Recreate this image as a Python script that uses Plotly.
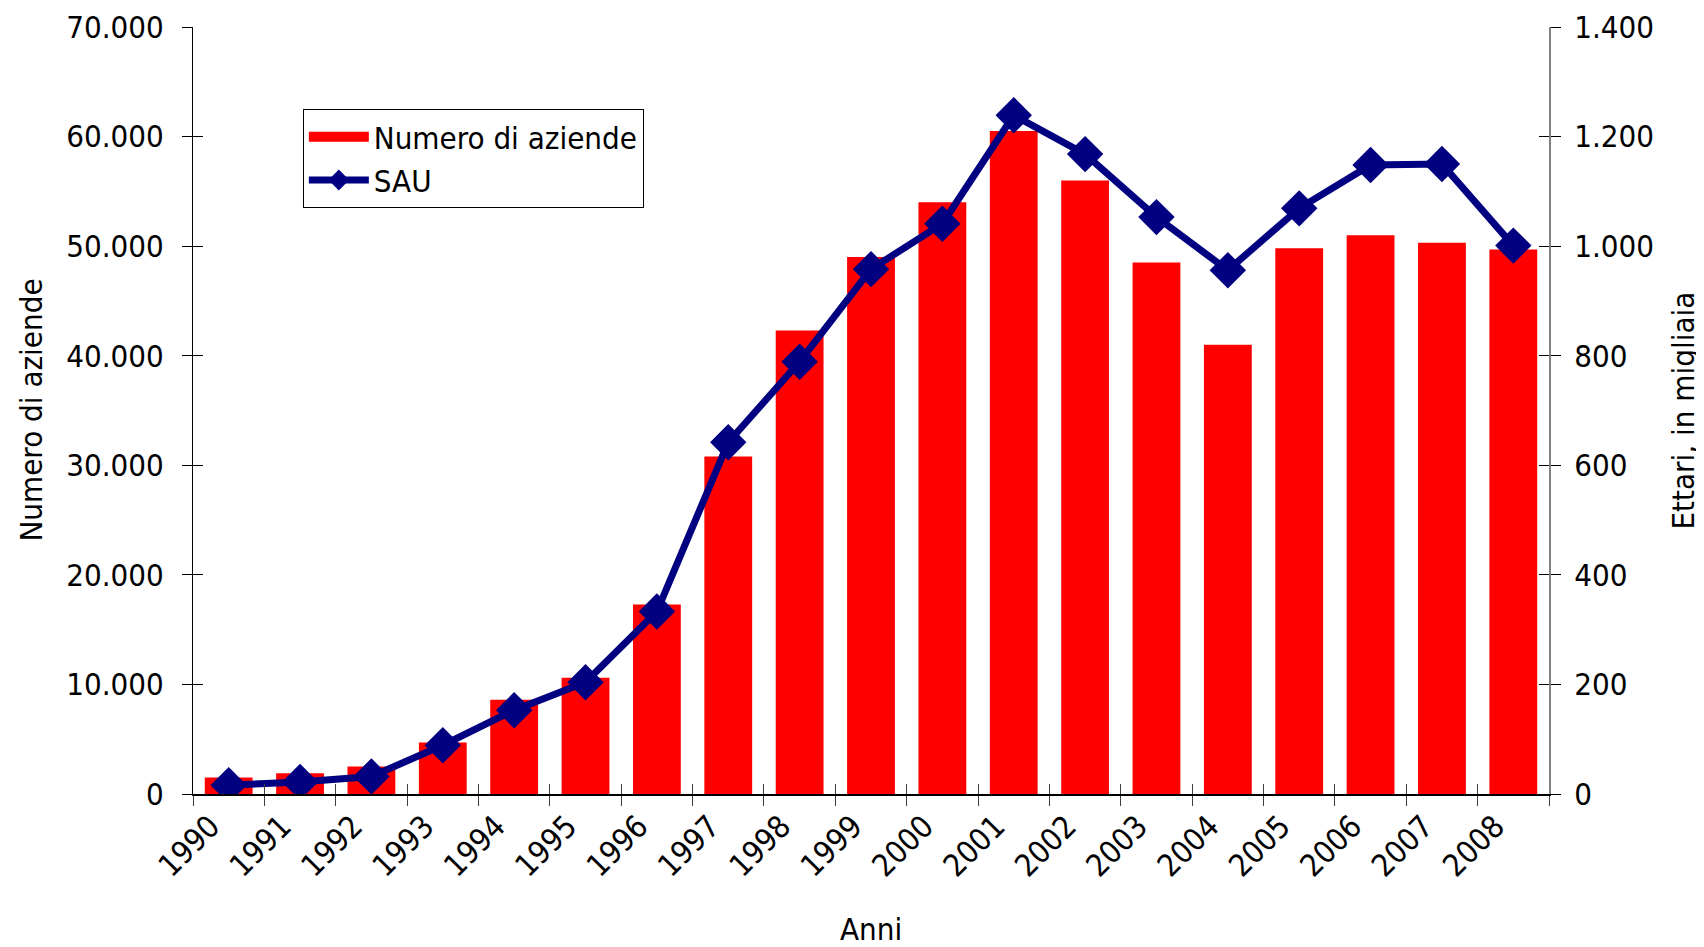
import plotly.graph_objects as go

years = [str(y) for y in range(1990, 2009)]
aziende = [1500, 1900, 2500, 4700, 8600, 10600, 17300, 30800, 42300, 49000,
           54000, 60500, 56000, 48500, 41000, 49800, 51000, 50300, 49700]
sau = [16, 22, 32, 89, 153, 204, 333, 642, 789, 958,
       1041, 1239, 1168, 1053, 956, 1069, 1148, 1150, 1001]

left_ticks = list(range(0, 70001, 10000))
right_ticks = list(range(0, 1401, 200))

FONT = "DejaVu Sans Condensed, Liberation Sans Narrow, DejaVu Sans, sans-serif"
FS = 31
NAVY = "#000080"
RED = "#FF0000"

fig = go.Figure()
# legend entry for the bars (wide rectangle look)
fig.add_trace(go.Scatter(
    x=[None], y=[None], name="Numero di aziende", mode="lines",
    line=dict(color=RED, width=22), xaxis="x", yaxis="y", hoverinfo="skip",
))
fig.add_trace(go.Bar(
    x=years, y=aziende, name="Numero di aziende", showlegend=False,
    marker=dict(color=RED, line=dict(width=0)),
    xaxis="x", yaxis="y",
))
fig.add_trace(go.Scatter(
    x=years, y=sau, name="SAU", mode="lines+markers",
    line=dict(color=NAVY, width=7),
    marker=dict(symbol="diamond", size=28, color=NAVY),
    xaxis="x2", yaxis="y2",
))
# helper empty traces so the overlay axes (inner tick halves) are drawn
fig.add_trace(go.Scatter(x=[None], y=[None], xaxis="x", yaxis="y3",
                         showlegend=False, hoverinfo="skip"))
fig.add_trace(go.Scatter(x=[None], y=[None], xaxis="x", yaxis="y4",
                         showlegend=False, hoverinfo="skip"))

xrange = [-0.5, len(years) - 0.5]
common_x = dict(type="category", categoryorder="array", categoryarray=years,
                range=xrange, tickson="boundaries", ticklen=10, tickwidth=1,
                tickcolor="#404040", automargin=False)

tfont = dict(family=FONT, size=FS, color="black")

fig.update_layout(
    width=1696, height=939,
    margin=dict(l=185, r=155, t=19, b=153),
    paper_bgcolor="white", plot_bgcolor="white",
    separators=",.",
    font=tfont,
    bargap=0.33,
    showlegend=True,
    legend=dict(
        x=0.081, y=0.893, xanchor="left", yanchor="top",
        bgcolor="white", bordercolor="black", borderwidth=1,
        font=tfont, tracegroupgap=0, itemwidth=60,
    ),
    xaxis=dict(
        **common_x, ticks="outside", showline=True, linecolor="black",
        linewidth=1.5, tickangle=-45, showgrid=False,
        tickfont=tfont, ticklabelshift=-18,
        anchor="y",
    ),
    xaxis2=dict(
        **common_x, ticks="inside", overlaying="x", anchor="y",
        showticklabels=False, showline=False, showgrid=False,
    ),
    yaxis=dict(
        range=[0, 70000], tickmode="array", tickvals=left_ticks,
        tickformat=",d", ticks="outside", ticklen=10, tickcolor="black",
        showline=True, linecolor="black", linewidth=1, showgrid=False,
        zeroline=False, automargin=False, ticklabelstandoff=12,
        tickfont=tfont,
    ),
    yaxis3=dict(
        range=[0, 70000], tickmode="array", tickvals=left_ticks,
        ticks="inside", ticklen=10, tickcolor="black", overlaying="y",
        side="left", anchor="x", showticklabels=False, showline=False,
        showgrid=False, zeroline=False, automargin=False,
    ),
    yaxis2=dict(
        range=[0, 1400], tickmode="array", tickvals=right_ticks,
        tickformat=",d", ticks="outside", ticklen=10, tickcolor="black",
        showline=True, linecolor="#808080", linewidth=2, showgrid=False,
        zeroline=False, overlaying="y", side="right", anchor="x2",
        automargin=False, ticklabelstandoff=7, tickfont=tfont,
    ),
    yaxis4=dict(
        range=[0, 1400], tickmode="array", tickvals=right_ticks,
        ticks="inside", ticklen=10, tickcolor="black", overlaying="y",
        side="right", anchor="x", showticklabels=False, showline=False,
        showgrid=False, zeroline=False, automargin=False,
    ),
    annotations=[
        dict(text="Numero di aziende", xref="paper", yref="paper",
             x=0, y=0.5, xshift=-163, textangle=-90, showarrow=False,
             xanchor="center", yanchor="middle", font=tfont),
        dict(text="Ettari, in migliaia", xref="paper", yref="paper",
             x=1, y=0.5, xshift=133, textangle=-90, showarrow=False,
             xanchor="center", yanchor="middle", font=tfont),
        dict(text="Anni", xref="paper", yref="paper",
             x=0.5, y=0, yshift=-135, showarrow=False,
             xanchor="center", yanchor="middle", font=tfont),
    ],
)

fig.write_html("out.html")
